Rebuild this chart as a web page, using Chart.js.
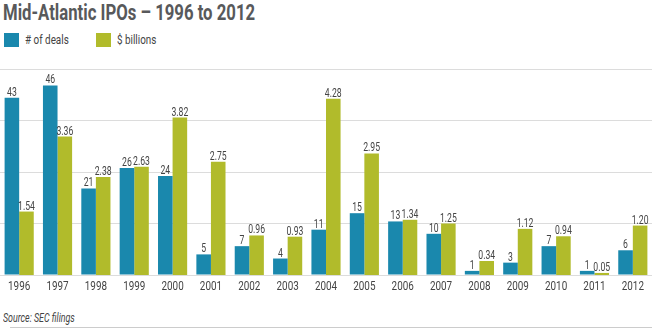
<!DOCTYPE html>
<html>
<head>
<meta charset="utf-8">
<script src="https://cdn.jsdelivr.net/npm/chart.js@4.4.0/dist/chart.umd.min.js"></script>
<style>
  html, body { margin: 0; padding: 0; background: #fff; }
  body { width: 652px; height: 329px; position: relative; overflow: hidden;
         font-family: Roboto, "Liberation Sans", sans-serif; color: #555; }
  .narrow { transform-origin: 0 0; white-space: nowrap; }
  #title { position: absolute; left: 3px; top: 0px; font-size: 22px; font-weight: bold; color: #58595b;
           transform: scaleX(0.76); }
  #legend { position: absolute; left: 4px; top: 33px; font-size: 13px; color: #444; }
  .sw { position: absolute; top: 0; width: 15px; height: 14px; }
  .lbl { position: absolute; top: -1px; transform: scaleX(0.76); transform-origin: 0 0; white-space: nowrap; }
  #chartBox { position: absolute; left: 0; top: 55px; width: 652px; height: 245px; }
  #source { position: absolute; left: 3px; top: 311px; font-size: 12px; font-style: italic; color: #444;
            transform: scaleX(0.74); }
  #rule { position: absolute; left: 10px; right: 0; top: 327px; height: 1px; background: #ccc; }
</style>
</head>
<body>
<div id="title" class="narrow">Mid-Atlantic IPOs – 1996 to 2012</div>
<div id="legend">
  <span class="sw" style="left:0;background:#1a88ad"></span><span class="lbl" style="left:21px"># of deals</span>
  <span class="sw" style="left:92px;background:#b1bb2b"></span><span class="lbl" style="left:113px">$ billions</span>
</div>
<div id="chartBox"><canvas id="ipoChart"></canvas></div>
<div id="source" class="narrow">Source: SEC filings</div>
<div id="rule"></div>

<script>
const years = ['1996','1997','1998','1999','2000','2001','2002','2003','2004','2005','2006','2007','2008','2009','2010','2011','2012'];
const deals = [43, 46, 21, 26, 24, 5, 7, 4, 11, 15, 13, 10, 1, 3, 7, 1, 6];
const billions = [1.54, 3.36, 2.38, 2.63, 3.82, 2.75, 0.96, 0.93, 4.28, 2.95, 1.34, 1.25, 0.34, 1.12, 0.94, 0.05, 1.20];

const FONT = 'Roboto, "Liberation Sans", sans-serif';

// texto estreito (condensado) desenhado no canvas
function narrowText(ctx, txt, x, y, sx) {
  ctx.save();
  ctx.translate(x, y);
  ctx.scale(sx, 1);
  ctx.fillText(txt, 0, 0);
  ctx.restore();
}

// valores em cima de cada barra + anos embaixo
const barLabels = {
  id: 'barLabels',
  afterDatasetsDraw(chart) {
    const ctx = chart.ctx;
    ctx.save();
    ctx.fillStyle = '#444';
    ctx.textAlign = 'center';
    ctx.textBaseline = 'alphabetic';
    ctx.font = '12px ' + FONT;
    chart.data.datasets.forEach((ds, i) => {
      chart.getDatasetMeta(i).data.forEach((bar, j) => {
        const v = ds.data[j];
        const txt = i === 1 ? v.toFixed(2) : String(v);
        narrowText(ctx, txt, bar.x, bar.y - 2, 0.72);
      });
    });
    ctx.font = '13px ' + FONT;
    const xs = chart.scales.x;
    const base = chart.chartArea.bottom;
    chart.data.labels.forEach((lab, j) => {
      narrowText(ctx, lab, xs.getPixelForValue(j), base + 15, 0.76);
    });
    ctx.restore();
  }
};

new Chart(document.getElementById('ipoChart'), {
  type: 'bar',
  data: {
    labels: years,
    datasets: [
      { label: '# of deals', data: deals, backgroundColor: '#1a88ad', yAxisID: 'y',
        categoryPercentage: 0.76, barPercentage: 1 },
      { label: '$ billions', data: billions, backgroundColor: '#b1bb2b', yAxisID: 'y1',
        categoryPercentage: 0.76, barPercentage: 1 }
    ]
  },
  options: {
    responsive: true,
    maintainAspectRatio: false,
    animation: false,
    layout: { padding: { top: 14, left: 0, right: 0, bottom: 25 } },
    plugins: { legend: { display: false }, tooltip: { enabled: false } },
    scales: {
      x: {
        grid: { display: false },
        border: { display: false },
        ticks: { display: false },
        afterFit(axis) { axis.height = 0; }
      },
      y: {
        min: 0, max: 50,
        ticks: { display: false, stepSize: 12.5 },
        grid: { color: '#dcdcdc', drawTicks: false },
        border: { display: false },
        afterFit(axis) { axis.width = 0; }
      },
      y1: { display: false, min: 0, max: 5 }
    }
  },
  plugins: [barLabels]
});
</script>
</body>
</html>
